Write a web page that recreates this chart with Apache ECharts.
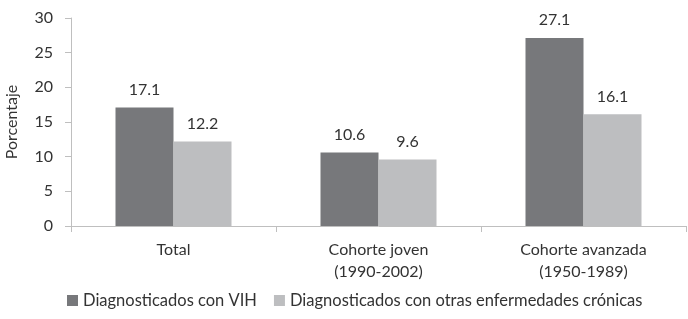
<!DOCTYPE html>
<html>
<head>
<meta charset="utf-8">
<script src="https://cdn.jsdelivr.net/npm/echarts@6/dist/echarts.min.js"></script>
<style>
  html, body { margin: 0; padding: 0; background: #fff; }
  #chart { width: 688px; height: 319px; }
</style>
</head>
<body>
<div id="chart"></div>
<script>
"use strict";
const categories = ['Total', 'Cohorte joven\n(1990-2002)', 'Cohorte avanzada\n(1950-1989)'];
const seriesNames = ['Diagnosticados con VIH', 'Diagnosticados con otras enfermedades crónicas'];
const vihValues = [17.1, 10.6, 27.1];
const otrasValues = [12.2, 9.6, 16.1];

const font = 'Lato';
const chart = echarts.init(document.getElementById('chart'));
const option = {
    textStyle: { fontFamily: font },
    animation: false,
    grid: { left: 71, right: 2, top: 18, bottom: 93, outerBoundsMode: 'none' },
    legend: {
        bottom: 5,
        left: 62,
        itemWidth: 11,
        itemHeight: 11,
        itemGap: 17,
        icon: 'rect',
        textStyle: { fontFamily: font, fontSize: 16.5, color: '#333' },
        data: seriesNames
    },
    xAxis: {
        type: 'category',
        data: categories,
        axisLine: { lineStyle: { color: '#bfbfbf' } },
        axisTick: { show: true, length: 6, lineStyle: { color: '#bfbfbf' } },
        axisLabel: { fontFamily: font, fontSize: 16, color: '#333', margin: 13, lineHeight: 22 }
    },
    yAxis: {
        type: 'value',
        min: 0,
        max: 30,
        interval: 5,
        name: 'Porcentaje',
        nameLocation: 'middle',
        nameGap: 51,
        nameTextStyle: { fontFamily: font, fontSize: 16, color: '#333' },
        axisLine: { show: true, lineStyle: { color: '#bfbfbf' } },
        axisTick: { show: true, length: 6, lineStyle: { color: '#bfbfbf' } },
        splitLine: { show: false },
        axisLabel: { fontFamily: font, fontSize: 16, color: '#333', margin: 18 }
    },
    series: [
        {
            name: seriesNames[0],
            type: 'bar',
            data: vihValues,
            barWidth: 58,
            barGap: '0%',
            itemStyle: { color: '#77787b' },
            label: { show: true, position: 'top', distance: 10, fontFamily: font, fontSize: 16, color: '#333' }
        },
        {
            name: seriesNames[1],
            type: 'bar',
            data: otrasValues,
            barWidth: 58,
            barGap: '0%',
            itemStyle: { color: '#bdbec0' },
            label: { show: true, position: 'top', distance: 10, fontFamily: font, fontSize: 16, color: '#333' }
        }
    ]
};
chart.setOption(option);
</script>
</body>
</html>
